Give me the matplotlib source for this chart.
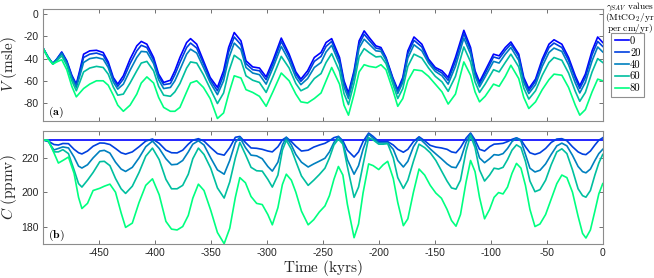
import numpy as np
import matplotlib
matplotlib.use('Agg')
import matplotlib.pyplot as plt

plt.rcParams['font.family'] = ['Liberation Sans', 'DejaVu Sans']
plt.rcParams['mathtext.fontset'] = 'cm'
plt.rcParams['axes.unicode_minus'] = False

# ---- panel (a): V (msle), one list per gamma_SAV value ----
t_v = [-500, -495, -491, -487.5, -483, -478.5, -474, -470, -467, -463.5,
       -458, -452, -446, -441.5, -437, -433, -428, -422, -416, -412,
       -407, -401, -396.5, -392, -386, -382, -377.5, -371.5, -368, -362.5,
       -356.5, -350.5, -344, -338.5, -334, -329, -323, -318.5, -312.5, -306.5,
       -300.5, -294.5, -287, -280, -274, -269.5, -263.5, -257.5, -251.5, -247,
       -242, -235, -231, -227, -222, -217.5, -213, -208.5, -202.5, -198,
       -193.5, -187.5, -183, -178.5, -174, -168.5, -161.5, -155.5, -149.5, -143.5,
       -138, -131.5, -124, -118, -114, -110, -105, -97.5, -92.5, -87,
       -82, -75, -70.5, -66, -60, -54, -48, -43.5, -36.5, -30.5,
       -24.5, -20.5, -15.5, -9.5, -4.5, 0]
v_0 = [-30, -39, -44.5, -40.5, -34, -42, -55, -63, -51, -36,
       -33, -32.5, -34.5, -43, -57, -63, -55.5, -40.5, -28.5, -24.5,
       -27, -39, -54, -61.5, -59.5, -51, -39, -25.5, -22, -27,
       -42, -57, -66, -51, -30, -16.5, -24, -42, -47.5, -48.5,
       -56.5, -42, -21.5, -36, -52, -58.5, -51, -39, -34.5, -25.5,
       -22, -39, -60, -71, -51, -24, -15, -21, -28.5, -30,
       -39, -57, -68, -57, -33, -20.5, -27, -40.5, -48, -51,
       -57, -39, -14.5, -30, -51, -61, -51, -36, -37.5, -30,
       -25, -36, -57, -67, -58.5, -40.5, -27, -23, -27, -39,
       -55.5, -64.5, -54, -33, -20.5, -25.5]
v_20 = [-30, -39, -44.5, -40.5, -34.5, -43, -56, -64, -53, -39,
        -36, -35, -37, -45, -58.5, -65, -58.5, -44.5, -33, -28,
        -30, -41.5, -56, -63.5, -62.5, -54.5, -43.5, -30, -26, -30.5,
        -44.5, -59, -69, -55, -34, -20.5, -27.5, -44.5, -50, -51,
        -59, -45, -24.5, -38.5, -54, -60.5, -54, -42.5, -38, -29,
        -24.5, -41.5, -62, -73, -53, -27, -18, -23.5, -30.5, -31.5,
        -40, -58, -69.5, -59, -35.5, -23.5, -29.5, -42, -49.5, -53,
        -59.5, -42.5, -17.5, -32.5, -53, -63, -53.5, -38.5, -40, -32.5,
        -27, -38, -59, -69, -60.5, -43, -30, -26, -30, -41.5,
        -58, -67, -57, -36.5, -24.5, -29]
v_40 = [-30, -39, -44.5, -41, -35.5, -44, -57.5, -66, -56, -43.5,
        -40, -39, -40.5, -48, -61, -67.5, -63, -50.5, -39, -33.5,
        -34, -44.5, -59, -67, -66, -60, -50, -36, -31.5, -35,
        -48, -61.5, -72.5, -60, -40, -26, -32, -48, -53, -54.5,
        -63, -48.5, -29, -42, -57, -63.5, -58, -48, -43.5, -34,
        -28, -45, -65.5, -76, -56, -30.5, -22.5, -27, -33, -33.5,
        -41.5, -59.5, -71.5, -61.5, -39.5, -27.5, -33, -44, -51.5, -55.5,
        -63, -47, -21.5, -36, -55.5, -65.5, -56.5, -42.5, -44, -36,
        -30, -41.5, -61.5, -71.5, -63.5, -47, -34.5, -30.5, -33.5, -45.5,
        -62, -71, -61.5, -42, -29.5, -34]
v_60 = [-30, -39.5, -45, -42, -37.5, -46, -60, -69, -61.5, -52,
        -48.5, -47, -48, -54, -65.5, -73, -72, -62, -51, -44,
        -42.5, -51, -65, -73, -74, -70, -62.5, -48.5, -43, -44,
        -54.5, -67, -80.5, -71, -52, -37, -41.5, -55.5, -59.5, -61.5,
        -70.5, -56.5, -38, -48.5, -62.5, -69, -66, -58, -53.5, -43.5,
        -35.5, -51.5, -71.5, -81.5, -62, -38.5, -31, -34.5, -38.5, -38,
        -44.5, -62.5, -76, -67, -47, -36, -39.5, -48.5, -56, -61,
        -69.5, -56, -29.5, -43, -61, -70.5, -63, -50, -52, -43.5,
        -36, -47.5, -66.5, -76.5, -69, -55, -43.5, -39, -41.5, -53,
        -69.5, -78.5, -70.5, -52, -40, -43.5]
v_80 = [-30, -40, -45, -43, -41, -50, -65, -74.5, -71, -67,
        -63, -60, -60, -64, -73, -82, -87.5, -82, -72, -62,
        -56.5, -62, -75, -84, -87.5, -87.5, -84, -70, -62, -60,
        -66, -76, -94, -89, -72, -55.5, -57.5, -68, -70.5, -74,
        -83, -70, -53, -60, -72, -79, -80, -76, -71, -60,
        -48, -63, -82, -91, -72, -52, -45.5, -47, -48, -45.5,
        -50, -68, -83, -76, -60, -50, -51, -56, -63, -70,
        -81, -72, -43, -55, -70, -79, -74, -63, -65, -56,
        -46, -58, -75, -85, -79, -68, -59, -54, -55, -66,
        -82, -91, -86, -70, -58.5, -60]

# ---- panel (b): C (ppmv) ----
t_c0 = [-500, 0]
c_0 = [230.5, 230.5]
t_c = [-500, -495, -490, -486, -482, -477, -472, -468, -465, -460,
       -455, -449, -445, -440, -435, -430, -426, -420, -414, -408,
       -402, -396, -390, -385, -380, -375, -370, -366, -361, -356,
       -350, -344, -338, -333, -328, -324, -319, -314, -309, -304,
       -299, -295, -290, -286, -282.5, -278, -274, -269, -263, -258,
       -253, -248, -244, -240, -236, -232, -228, -222, -218, -214,
       -209, -205, -200, -196, -192, -187, -183, -178, -174, -169,
       -164, -159, -154, -149, -144, -139, -135, -131, -127, -122,
       -118, -114, -110, -105.5, -101, -97, -93, -89, -85, -81,
       -77, -73, -69, -65, -60.5, -56, -51, -46, -41, -36.5,
       -32, -27, -22, -18, -15, -11, -7, -3.5, 0]
c_20 = [230.5, 229.8, 227.8, 227.5, 228.4, 228.3, 225, 223, 222.3, 224,
        226.8, 228.7, 228.6, 227.8, 225.5, 223, 222.2, 223.5, 226.5, 229.8,
        231, 228.5, 224.5, 223, 222.9, 224.5, 228, 230.3, 231.2, 229.8,
        226, 222.5, 221.6, 226, 232, 232.5, 229, 225.8, 225.6, 225,
        224, 223.5, 226.5, 230.5, 232, 229.5, 226.8, 224, 224.5, 226.3,
        227.5, 228.5, 230, 231.8, 232.5, 230, 224.5, 220.5, 223.5, 229.5,
        234.5, 232.5, 229.5, 229.4, 229.5, 227.5, 225, 223.3, 225, 229.5,
        232.3, 230, 227.3, 226.3, 225.8, 225, 223.5, 223, 226, 231.5,
        234.5, 230.5, 225, 224, 226.5, 228, 228.2, 228.5, 229.5, 230.8,
        231.7, 230.5, 226.5, 223, 222, 223, 225.5, 229, 231, 231.2,
        230, 226.5, 223.5, 222.2, 221.9, 224, 227.5, 230.3, 231.7]
c_40 = [230.5, 229.5, 224.6, 225.5, 226.4, 225.8, 220.5, 215.2, 214.1, 216,
        220, 224, 224.4, 222.8, 217.5, 213.5, 212.1, 214.5, 220, 226.5,
        229.8, 225.5, 219.5, 216, 216.3, 218.5, 223.5, 228, 230, 227.5,
        220, 213, 210.5, 218.5, 229, 232, 226, 221.6, 221.2, 219.5,
        215, 212.3, 217.5, 227.5, 232, 227.5, 222, 217.5, 214.7, 216.5,
        218.1, 219.8, 223.5, 229, 232.5, 229, 219, 210.5, 215.5, 225,
        233.8, 231.5, 228.8, 228.7, 228.7, 225, 218.5, 214.7, 218, 226.5,
        231.6, 228.5, 225.2, 222.3, 219.5, 216.5, 214.7, 214.3, 219, 229,
        234, 228.5, 220, 217.2, 219.5, 221.9, 221.6, 222.5, 225.5, 229.5,
        231.6, 229.8, 222, 214, 211.8, 212.8, 216.5, 222, 227, 228.6,
        227, 221.5, 215, 212, 211.3, 213.5, 218.5, 222.5, 225]
c_60 = [230.5, 230, 223.5, 223.5, 224.8, 222.5, 213, 205, 203, 207,
        211.5, 217.8, 218, 215.5, 208, 202, 199.3, 203.5, 211.5, 221,
        225.7, 219, 207.5, 202, 202, 204, 210.5, 219.5, 225.7, 222,
        214, 202.5, 196.6, 206, 220, 229, 222, 214.5, 212.5, 212.3,
        207.5, 203, 210, 224.5, 230.3, 225, 218, 209.5, 204, 207,
        210.3, 214, 220, 227.5, 231, 228, 215, 197, 203, 216,
        231.8, 230.5, 228, 228, 228.3, 220, 208.5, 202.2, 207, 218,
        228, 226, 223, 218.5, 212.5, 206.5, 202.5, 201.8, 207, 224,
        233, 226, 213, 206.5, 210, 214, 213.5, 214.5, 219, 224.5,
        227.6, 226, 218, 206.5, 200.3, 201.5, 207, 216, 223.5, 225.3,
        222.5, 213, 202, 198, 197.1, 201, 210, 217, 222]
c_80 = [230.5, 230.3, 223, 217, 218.5, 220.5, 211, 197, 190.5, 193.5,
        201, 202.3, 203.5, 204.7, 200, 188, 179.5, 182, 194, 204,
        207.8, 198.5, 183, 178.5, 178, 180, 186.5, 196.5, 204.7, 201,
        189.5, 176.5, 170, 179, 197, 208.5, 205.5, 197.5, 193.5, 192.8,
        187, 181, 191, 204.5, 210.5, 207, 200, 189, 181, 184,
        188.5, 192, 198, 207.5, 215, 210, 193, 173.5, 181.5, 199.5,
        216.5, 215.5, 213.2, 216, 218, 208, 194, 180.5, 184.5, 200,
        213.5, 210, 204, 199.5, 196.5, 190, 183.5, 180.2, 187, 206,
        218.5, 212, 197, 184.5, 190, 197, 199.8, 199, 203, 211,
        216.8, 214, 204, 190, 180, 181.5, 187, 196, 205, 210,
        208.5, 200, 186, 176, 173.3, 178, 189, 199, 205]

gamma_labels = ['0', '20', '40', '60', '80']
# matlab "winter" colours, 5 steps
colors = ['#0000ff', '#0040df', '#0080bf', '#00bf9f', '#00ff80']

fig = plt.figure(figsize=(6.54, 2.78), dpi=100)
ax1 = fig.add_axes([0.0653, 0.5658, 0.8563, 0.4029])
ax2 = fig.add_axes([0.0653, 0.1234, 0.8563, 0.4043])

v_series = [v_0, v_20, v_40, v_60, v_80]
c_series = [c_20, c_40, c_60, c_80]

handles = []
for i in range(5):
    l, = ax1.plot(t_v, v_series[i], color=colors[i], lw=1.2)
    handles.append(l)

ax2.plot(t_c0, c_0, color=colors[0], lw=1.2)
for i in range(4):
    ax2.plot(t_c, c_series[i], color=colors[i + 1], lw=1.2)


def style_axes(ax):
    ax.set_xlim(-500, 0)
    ax.set_xticks(np.arange(-450, 1, 50))
    ax.tick_params(direction='in', length=3, width=0.6, color='0.35',
                   top=True, right=True, labelsize=7.5, labelcolor='0.15', pad=3)
    for s in ax.spines.values():
        s.set_color('0.55')
        s.set_linewidth(0.8)


style_axes(ax1)
style_axes(ax2)

ax1.set_ylim(-96, 5)
ax1.set_yticks([-80, -60, -40, -20, 0])
ax1.tick_params(labelbottom=False)
ax2.set_ylim(170, 235.5)
ax2.set_yticks([180, 200, 220])

ax1.set_ylabel(r'$V\ (\mathrm{msle})$', fontsize=11, color='0.15')
ax1.yaxis.set_label_coords(-0.043, 0.5)
ax2.set_ylabel(r'$C\ (\mathrm{ppmv})$', fontsize=11, color='0.15')
ax2.yaxis.set_label_coords(-0.043, 0.5)
ax2.set_xlabel(r'$\mathrm{Time\ (kyrs)}$', fontsize=11, color='0.15')
ax2.xaxis.set_label_coords(0.5, -0.125)

ax1.text(0.01, 0.078, r'$\mathbf{(a)}$', transform=ax1.transAxes, fontsize=8.5,
         ha='left', va='center')
ax2.text(0.01, 0.07, r'$\mathbf{(b)}$', transform=ax2.transAxes, fontsize=8.5,
         ha='left', va='center')

# legend with its title written above the box
leg = fig.legend(handles, gamma_labels, loc='upper left',
                 bbox_to_anchor=(611 / 654, 1 - 32.7 / 278),
                 prop=dict(family='cmr10', size=7.6),
                 frameon=True, fancybox=False, edgecolor='0.45',
                 handlelength=1.35, handletextpad=0.1, borderpad=0.35,
                 labelspacing=0.22, borderaxespad=0)
leg.get_frame().set_linewidth(0.8)

title = (r'$\gamma_{SAV}\ \mathrm{values}$' + '\n' +
         r'$\mathrm{(MtCO_2/yr}$' + '\n' + r'$\mathrm{per\ cm/yr)}$')
fig.text(630 / 654, 1 - 0.5 / 278, title, fontsize=6.8, ha='center', va='top',
         linespacing=0.75, multialignment='center')

fig.savefig('out.png', dpi=100)
